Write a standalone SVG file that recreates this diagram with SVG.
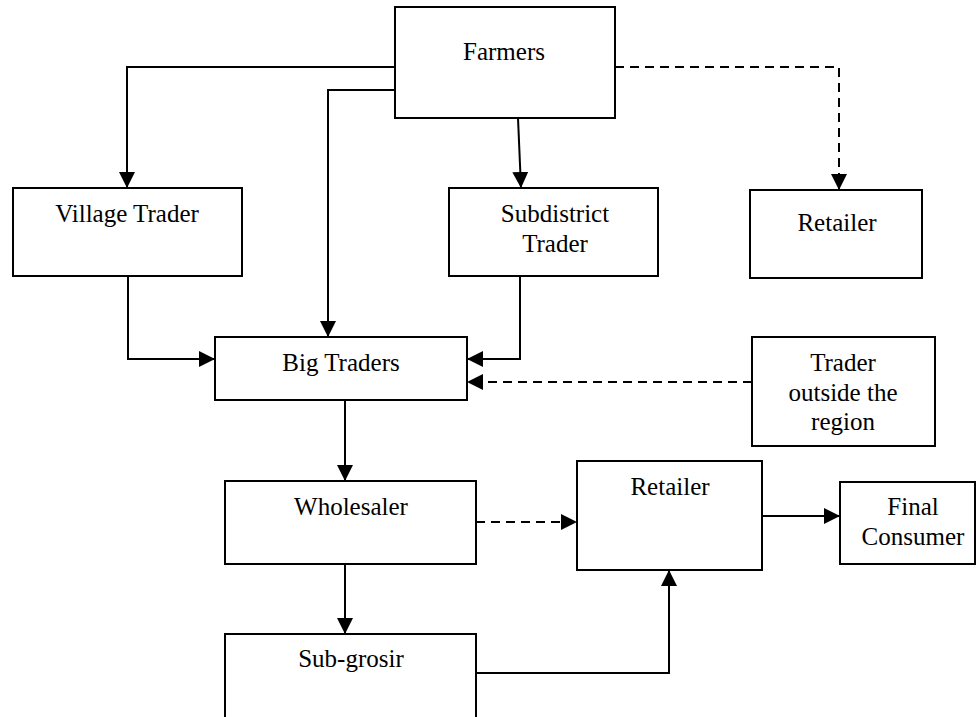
<svg xmlns="http://www.w3.org/2000/svg" width="977" height="717" viewBox="0 0 977 717">
  <style>
    .box { fill: #ffffff; stroke: #000000; stroke-width: 2; }
    .lbl { font-family: "Liberation Serif", "Times New Roman", serif; font-size: 25px; fill: #000000; text-anchor: middle; }
    .ln { fill: none; stroke: #000000; stroke-width: 2; }
    .dash { stroke-dasharray: 9 6; }
  </style>
  <defs>
    <marker id="arrow" markerUnits="userSpaceOnUse" markerWidth="16" markerHeight="16" viewBox="0 0 15 15" refX="15" refY="7.5" orient="auto">
      <path d="M0,0 L15,7.5 L0,15 Z" fill="#000000"/>
    </marker>
  </defs>

  <!-- connectors -->
  <g id="connectors">
    <polyline class="ln" points="395,67 127,67 127,188" marker-end="url(#arrow)"/>
    <polyline class="ln" points="395,90 328,90 328,337" marker-end="url(#arrow)"/>
    <line class="ln" x1="518" y1="118" x2="521" y2="188" marker-end="url(#arrow)"/>
    <polyline class="ln dash" points="615,67 839,67 839,190" marker-end="url(#arrow)"/>
    <polyline class="ln" points="128,276 128,359 215,359" marker-end="url(#arrow)"/>
    <polyline class="ln" points="520,276 520,359 467,359" marker-end="url(#arrow)"/>
    <line class="ln dash" x1="752" y1="382" x2="467" y2="382" marker-end="url(#arrow)"/>
    <line class="ln" x1="345" y1="400" x2="345" y2="481" marker-end="url(#arrow)"/>
    <line class="ln dash" x1="476" y1="522" x2="577" y2="522" marker-end="url(#arrow)"/>
    <line class="ln" x1="762" y1="516" x2="840" y2="516" marker-end="url(#arrow)"/>
    <line class="ln" x1="345" y1="564" x2="345" y2="634" marker-end="url(#arrow)"/>
    <polyline class="ln" points="476,673 669,673 669,570" marker-end="url(#arrow)"/>
  </g>

  <!-- nodes -->
  <g id="farmers">
    <rect class="box" x="395" y="7" width="220" height="111"/>
    <text class="lbl" x="504" y="60">Farmers</text>
  </g>
  <g id="village-trader">
    <rect class="box" x="13" y="188" width="229" height="88"/>
    <text class="lbl" x="127" y="222">Village Trader</text>
  </g>
  <g id="subdistrict-trader">
    <rect class="box" x="449" y="188" width="209" height="88"/>
    <text class="lbl" x="555" y="222">Subdistrict</text>
    <text class="lbl" x="555" y="252">Trader</text>
  </g>
  <g id="retailer-top">
    <rect class="box" x="750" y="190" width="172" height="88"/>
    <text class="lbl" x="837" y="231">Retailer</text>
  </g>
  <g id="big-traders">
    <rect class="box" x="215" y="337" width="252" height="63"/>
    <text class="lbl" x="341" y="371">Big Traders</text>
  </g>
  <g id="trader-outside">
    <rect class="box" x="752" y="337" width="183" height="109"/>
    <text class="lbl" x="843" y="371">Trader</text>
    <text class="lbl" x="843" y="401">outside the</text>
    <text class="lbl" x="843" y="430">region</text>
  </g>
  <g id="wholesaler">
    <rect class="box" x="225" y="481" width="251" height="83"/>
    <text class="lbl" x="351" y="515">Wholesaler</text>
  </g>
  <g id="retailer">
    <rect class="box" x="577" y="461" width="185" height="109"/>
    <text class="lbl" x="670" y="495">Retailer</text>
  </g>
  <g id="final-consumer">
    <rect class="box" x="840" y="482" width="135" height="82"/>
    <text class="lbl" x="913" y="515">Final</text>
    <text class="lbl" x="913" y="545">Consumer</text>
  </g>
  <g id="sub-grosir">
    <polyline class="ln" points="225,717 225,634 476,634 476,717"/>
    <text class="lbl" x="351" y="667">Sub-grosir</text>
  </g>
</svg>
